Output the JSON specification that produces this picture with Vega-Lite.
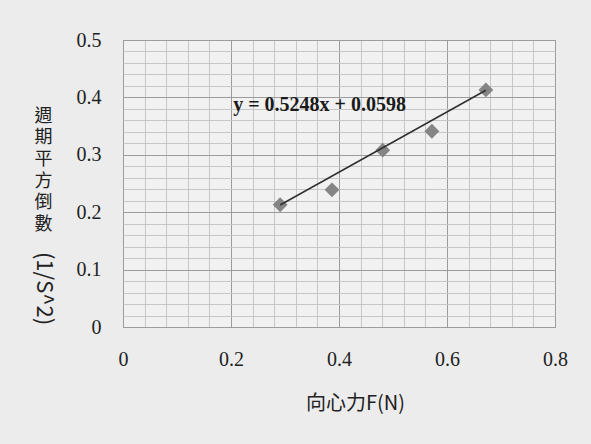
{
  "$schema": "https://vega.github.io/schema/vega-lite/v6.json",
  "width": 432,
  "height": 287,
  "autosize": {"type": "none"},
  "padding": {"left": 123, "top": 40, "right": 36, "bottom": 117},
  "background": "#ececec",
  "config": {
    "view": {"stroke": "#9a9a9a", "strokeWidth": 1, "fill": "#f1f1f1"},
    "axis": {"labelFont": "Liberation Serif", "labelFontSize": 20, "labelColor": "#222", "ticks": false, "domain": false, "labelOverlap": false}
  },
  "resolve": {"scale": {"y": "shared"}, "axis": {"y": "independent"}},
  "layer": [
    {
      "data": {"values": [
        {"F": 0.291, "inv": 0.213},
        {"F": 0.387, "inv": 0.239},
        {"F": 0.481, "inv": 0.308},
        {"F": 0.572, "inv": 0.341},
        {"F": 0.672, "inv": 0.413}
      ]},
      "mark": {"type": "point", "shape": "diamond", "filled": true, "size": 220, "color": "#858585", "opacity": 1},
      "encoding": {
        "x": {"field": "F", "type": "quantitative", "scale": {"domain": [0, 0.8], "nice": false, "zero": true},
          "axis": {
            "values": [0,0.04,0.08,0.12,0.16,0.2,0.24,0.28,0.32,0.36,0.4,0.44,0.48,0.52,0.56,0.6,0.64,0.68,0.72,0.76,0.8],
            "tickCount": 100,
            "labelExpr": "abs(datum.value*5 - round(datum.value*5)) < 0.001 ? format(datum.value, '~g') : ''",
            "labelOverlap": false,
            "labelFlush": false,
            "labelPadding": 22,
            "grid": true,
            "gridColor": {"condition": {"test": "abs(datum.value*5 - round(datum.value*5)) < 0.001", "value": "#9c9c9c"}, "value": "#c6c6c6"},
            "gridWidth": 1,
            "title": "向心力F(N)",
            "titleFont": "Noto Sans CJK TC",
            "titleFontSize": 20,
            "titleFontWeight": "normal",
            "titleColor": "#222",
            "titleX": 232,
            "titleY": 76,
            "titleAlign": "center",
            "titleBaseline": "middle"
          }},
        "y": {"field": "inv", "type": "quantitative", "scale": {"domain": [0, 0.5], "nice": false},
          "axis": {
            "orient": "left",
            "values": [0,0.02,0.04,0.06,0.08,0.1,0.12,0.14,0.16,0.18,0.2,0.22,0.24,0.26,0.28,0.3,0.32,0.34,0.36,0.38,0.4,0.42,0.44,0.46,0.48,0.5],
            "tickCount": 100,
            "labelExpr": "abs(datum.value*10 - round(datum.value*10)) < 0.001 ? format(datum.value, '~g') : ''",
            "labelOverlap": false,
            "labelFlush": false,
            "labelPadding": 22,
            "grid": true,
            "gridColor": {"condition": {"test": "abs(datum.value*10 - round(datum.value*10)) < 0.001", "value": "#9c9c9c"}, "value": "#c6c6c6"},
            "gridWidth": 1,
            "title": ["週", "期", "平", "方", "倒", "數"],
            "titleFont": "Noto Sans CJK TC",
            "titleFontSize": 18,
            "titleFontWeight": "normal",
            "titleColor": "#222",
            "titleLineHeight": 21.7,
            "titleAngle": 0,
            "titleAlign": "center",
            "titleBaseline": "top",
            "titleX": -80,
            "titleY": 67
          }}
      }
    },
    {
      "data": {"values": [
        {"F": 0.291, "inv": 0.2125},
        {"F": 0.672, "inv": 0.4125}
      ]},
      "mark": {"type": "line", "color": "#303030", "strokeWidth": 1.5},
      "encoding": {
        "x": {"field": "F", "type": "quantitative"},
        "y": {"field": "inv", "type": "quantitative",
          "axis": {
            "orient": "left",
            "labels": false,
            "grid": false,
            "title": "(1/S^2)",
            "titleFont": "Noto Sans CJK TC",
            "titleFontSize": 22,
            "titleFontWeight": "normal",
            "titleColor": "#222",
            "titleAngle": 90,
            "titleAlign": "center",
            "titleBaseline": "middle",
            "titleX": -80,
            "titleY": 248
          }}
      }
    },
    {
      "data": {"values": [
        {"F": 0.204, "inv": 0.387, "label": "y = 0.5248x + 0.0598"}
      ]},
      "mark": {"type": "text", "align": "left", "baseline": "middle", "font": "Liberation Serif", "fontWeight": "bold", "fontSize": 20, "color": "#1a1a1a"},
      "encoding": {
        "x": {"field": "F", "type": "quantitative"},
        "y": {"field": "inv", "type": "quantitative", "axis": null},
        "text": {"field": "label"}
      }
    }
  ]
}
